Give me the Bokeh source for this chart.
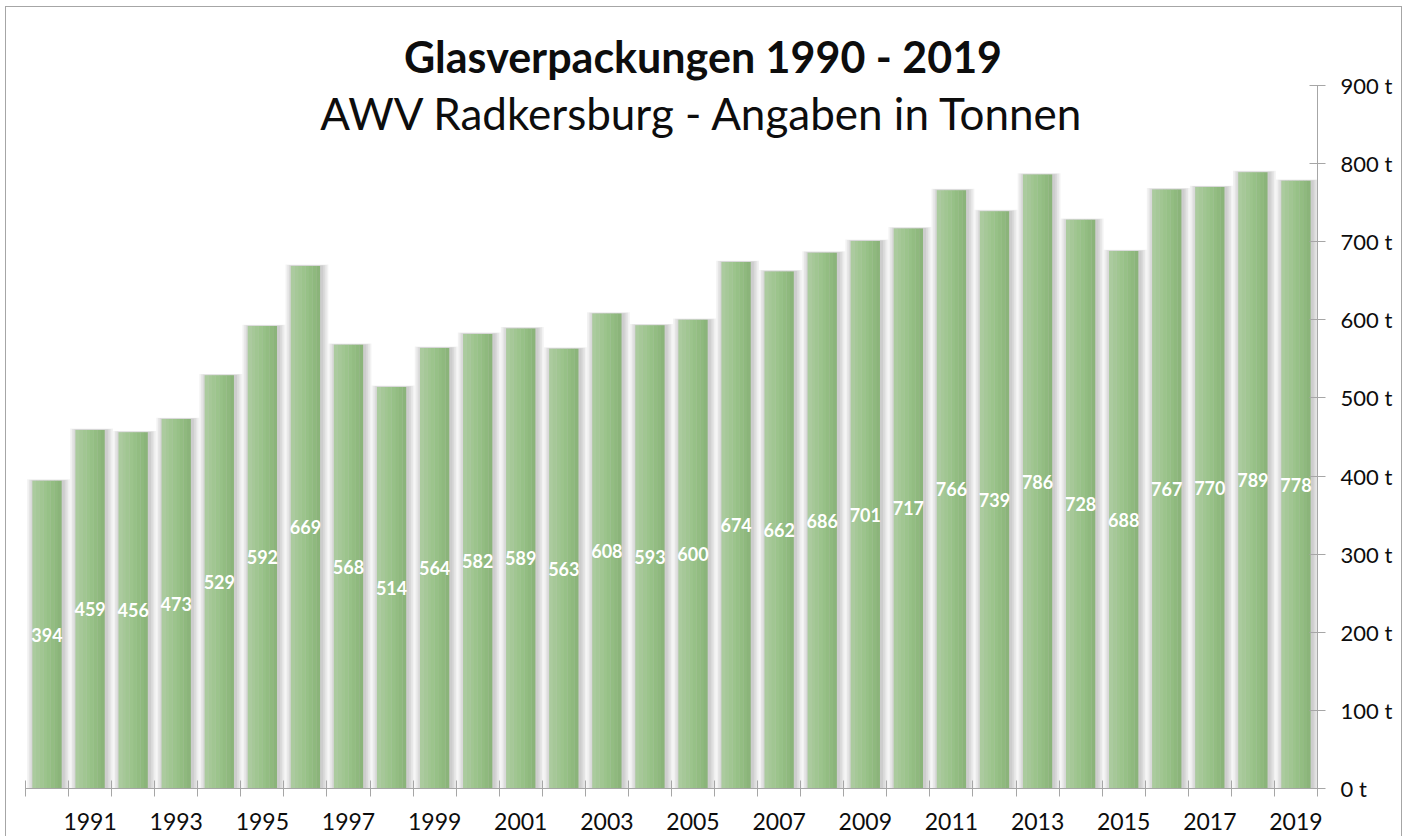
from bokeh.plotting import figure
from bokeh.models import Range1d, FixedTicker, Label, ColumnDataSource, PrintfTickFormatter
from bokeh.transform import dodge
from bokeh.core.properties import value
from bokeh.embed import file_html
from bokeh.resources import INLINE

# ---- data ----
years = list(range(1990, 2020))
tonnes = [394, 459, 456, 473, 529, 592, 669, 568, 514, 564,
          582, 589, 563, 608, 593, 600, 674, 662, 686, 701,
          717, 766, 739, 786, 728, 688, 767, 770, 789, 778]
label_years = [y for y in years if y % 2 == 1]
y_ticks = [0, 100, 200, 300, 400, 500, 600, 700, 800, 900]
title_text = "Glasverpackungen 1990 - 2019"
subtitle_text = "AWV Radkersburg - Angaben in Tonnen"

src = ColumnDataSource(dict(
    x=years,
    top=tonnes,
    mid=[v / 2 for v in tonnes],
    label=[str(v) for v in tonnes],
))

FONT = "Lato"
AX = "#a6a6a6"

# layout constants (pixels)
W, H = 1402, 836
F_LEFT, F_RIGHT, F_BOTTOM, Y900_PX = 25, 1317, 788, 85
px_per_unit = (F_BOTTOM - Y900_PX) / y_ticks[-1]
y_top = F_BOTTOM / px_per_unit           # frame reaches the top of the canvas
x0 = years[0] - 0.5
x_px_per_unit = (F_RIGHT - F_LEFT) / len(years)

def sx(px):
    return x0 + (px - F_LEFT) / x_px_per_unit

def sy(px):
    return (F_BOTTOM - px) / px_per_unit

p = figure(width=W, height=H,
           x_range=Range1d(x0, years[-1] + 0.5),
           y_range=Range1d(0, y_top),
           y_axis_location="right",
           output_backend="svg", toolbar_location=None,
           min_border_left=F_LEFT, min_border_right=W - F_RIGHT,
           min_border_top=0, min_border_bottom=H - F_BOTTOM)
p.xgrid.visible = False
p.ygrid.visible = False
p.outline_line_color = None
p.background_fill_color = None
p.border_fill_color = None
p.styles = {
    "background-color": "white",
    "box-shadow": ("inset 5px 0 0 white, inset 0 6px 0 white, "
                   "inset 6px 0 0 #a6a6a6, inset 0 7px 0 #a6a6a6, "
                   "inset -1px 0 0 #a6a6a6"),
}

# ---- shadows ----
bw = 0.675
for k in range(4, 0, -1):
    p.vbar(x=dodge("x", 0.035), top=dodge("top", k * 0.45), bottom=0,
           width=bw + k * 0.08, fill_color="black", fill_alpha=0.05,
           line_color=None, source=src)

# ---- bars with horizontal gradient ----
cols = ["#abcb9e", "#a6c898", "#a1c692", "#9cc48c", "#97c187", "#93bd82", "#8fb97e", "#8bb47a"]
n = len(cols)
sw = bw / n
for i, c in enumerate(cols):
    off = -bw / 2 + sw * (i + 0.5)
    p.vbar(x=dodge("x", off), top="top", bottom=0, width=sw * 1.06,
           fill_color=c, line_color=None, source=src)

# ---- value labels ----
p.text(x="x", y="mid", text="label", source=src,
       text_align="center", text_baseline="middle",
       text_color="white", text_font=value(FONT), text_font_style="bold",
       text_font_size="18px")

# ---- x axis ----
xa = p.xaxis[0]
xa.ticker = FixedTicker(ticks=label_years,
                        minor_ticks=[y - 0.5 for y in years] + [years[-1] + 0.5])
xa.formatter = PrintfTickFormatter(format="%d")
xa.major_tick_line_color = None
xa.major_tick_in = 0
xa.major_tick_out = 0
xa.minor_tick_in = 8
xa.minor_tick_out = 8
xa.minor_tick_line_color = AX
xa.axis_line_color = AX
xa.major_label_standoff = 16
xa.major_label_text_font = FONT
xa.major_label_text_font_size = "23px"
xa.major_label_text_color = "#0d0d0d"

# ---- y axis ----
ya = p.yaxis[0]
ya.ticker = FixedTicker(ticks=y_ticks)
ya.bounds = (y_ticks[0], y_ticks[-1])
ya.formatter = PrintfTickFormatter(format="%d t")
ya.major_tick_in = 8
ya.major_tick_out = 8
ya.minor_tick_line_color = None
ya.major_tick_line_color = AX
ya.axis_line_color = AX
ya.major_label_standoff = 15
ya.major_label_text_font = FONT
ya.major_label_text_font_size = "22px"
ya.major_label_text_color = "#0d0d0d"

# ---- titles ----
cx = sx(702.5)
p.add_layout(Label(x=cx, y=sy(56), text=title_text, text_align="center",
                   text_baseline="alphabetic", text_font=FONT, text_font_style="bold",
                   text_font_size="43px", text_color="#0d0d0d"))
p.add_layout(Label(x=cx, y=sy(112), text=subtitle_text, text_align="center",
                   text_baseline="alphabetic", text_font=FONT,
                   text_font_size="44px", text_color="#0d0d0d"))

open("out.html", "w").write(file_html(p, INLINE))
